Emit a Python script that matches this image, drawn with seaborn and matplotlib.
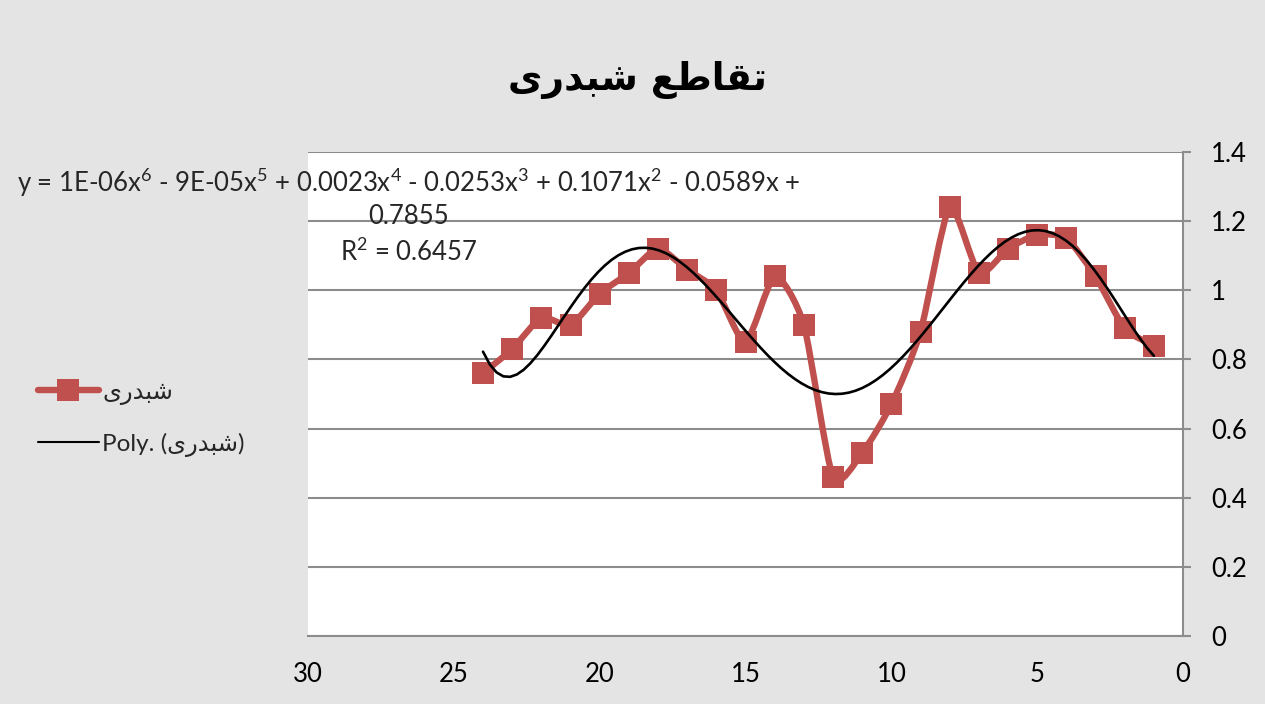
import numpy as np
import pandas as pd
import matplotlib
matplotlib.use("Agg")
import matplotlib.pyplot as plt
from matplotlib.path import Path
from matplotlib.patches import PathPatch
from matplotlib.lines import Line2D
from matplotlib.font_manager import FontProperties, findfont
from matplotlib.ft2font import FT2Font
import seaborn as sns

# ---------------- data ----------------
x_vals = [24, 23, 22, 21, 20, 19, 18, 17, 16, 15, 14, 13,
          12, 11, 10, 9, 8, 7, 6, 5, 4, 3, 2, 1]
y_vals = [0.76, 0.83, 0.92, 0.90, 0.99, 1.05, 1.12, 1.06, 1.00, 0.85, 1.04, 0.90,
          0.46, 0.53, 0.67, 0.88, 1.24, 1.05, 1.12, 1.16, 1.15, 1.04, 0.89, 0.84]
x_ticks = [30, 25, 20, 15, 10, 5, 0]
y_ticks = [0, 0.2, 0.4, 0.6, 0.8, 1.0, 1.2, 1.4]
eq_line1 = ("y = 1E-06x$^{6}$ - 9E-05x$^{5}$ + 0.0023x$^{4}$ - 0.0253x$^{3}$ "
            "+ 0.1071x$^{2}$ - 0.0589x +")
eq_line2 = "0.7855"
eq_line3 = "R$^{2}$ = 0.6457"

# --------- Arabic (pre-shaped, visual order) ---------
dv = FT2Font(findfont(FontProperties(family="DejaVu Sans")))
yeh = "\ufbfc" if dv.get_char_index(0xFBFC) else "\ufeef"
series_name = yeh + "\ufead\ufeaa\ufe92\ufeb7"            # شبدری
title_text = series_name + " " + "\ufeca\ufec3\ufe8e\ufed8\ufe97"  # تقاطع شبدری
trend_name = "Poly. (" + series_name + ")"

df = pd.DataFrame({"x": x_vals, "y": y_vals})

# ---------------- style ----------------
sns.set_theme(style="white")
plt.rcParams["font.family"] = ["Lato", "DejaVu Sans"]
plt.rcParams["mathtext.fontset"] = "custom"
plt.rcParams["mathtext.rm"] = "Lato"
plt.rcParams["mathtext.it"] = "Lato"

RED = "#C0504D"
GRID = "#8c8c8c"
BG = "#e4e4e4"
FS = 18.5

fig = plt.figure(figsize=(12.65, 7.04), dpi=100)
fig.patch.set_facecolor(BG)
W, H = 1265, 704
ax = fig.add_axes([308 / W, 1 - 636 / H, 875 / W, 484 / H])
ax.set_facecolor("white")

# smoothed series line (gentle Bezier smoothing through the points)
T = 1.0 / 9.0
P = np.column_stack([df["x"].to_numpy(float), df["y"].to_numpy(float)])
Pe = np.vstack([P[0], P, P[-1]])
verts = [tuple(P[0])]
codes = [Path.MOVETO]
for i in range(len(P) - 1):
    p0, p1, p2, p3 = Pe[i], Pe[i + 1], Pe[i + 2], Pe[i + 3]
    c1 = p1 + (p2 - p0) * T
    c2 = p2 - (p3 - p1) * T
    verts += [tuple(c1), tuple(c2), tuple(p2)]
    codes += [Path.CURVE4] * 3
ax.add_patch(PathPatch(Path(verts, codes), facecolor="none", edgecolor=RED,
                       lw=4.6, capstyle="round", joinstyle="round", zorder=3))

sns.scatterplot(data=df, x="x", y="y", marker="s", s=260, color=RED,
                linewidth=0, ax=ax, zorder=4)

# polynomial (order 6) trendline
sns.regplot(data=df, x="x", y="y", order=6, ci=None, scatter=False,
            truncate=True, line_kws=dict(color="black", lw=1.9, zorder=5), ax=ax)

ax.set_xlim(30, 0)
ax.set_ylim(0, 1.4)
ax.set_xticks(x_ticks)
ax.set_yticks(y_ticks)
ax.set_yticklabels([f"{v:g}" for v in y_ticks])
ax.set_xticklabels([str(v) for v in x_ticks])
ax.set_xlabel("")
ax.set_ylabel("")
ax.yaxis.tick_right()
ax.grid(axis="y", color=GRID, lw=1.5)
ax.grid(axis="x", visible=False)
for s in ["left", "top"]:
    ax.spines[s].set_visible(False)
for s in ["right", "bottom"]:
    ax.spines[s].set_color(GRID)
    ax.spines[s].set_linewidth(1.5)
ax.tick_params(axis="both", which="major", direction="out", length=6,
               width=1.5, color=GRID, labelsize=FS, labelcolor="black")
ax.tick_params(axis="x", pad=13)
ax.tick_params(axis="y", pad=14)

# title
fig.text(637 / W, 1 - 80 / H, title_text, ha="center", va="center",
         fontsize=27, fontweight="bold", family="DejaVu Sans", color="black")

# trendline equation label
cx = 409 / W
fig.text(cx, 1 - 183 / H, eq_line1, ha="center", va="center", fontsize=FS)
fig.text(cx, 1 - 217 / H, eq_line2, ha="center", va="center", fontsize=FS)
fig.text(cx, 1 - 252 / H, eq_line3, ha="center", va="center", fontsize=FS)

# legend
handles = [Line2D([], [], color=RED, lw=4.6, marker="s", markersize=16,
                  markerfacecolor=RED, markeredgewidth=0),
           Line2D([], [], color="black", lw=1.5)]
leg = fig.legend(handles, [series_name, trend_name], loc="upper left",
                 bbox_to_anchor=(16 / W, 1 - 360 / H), frameon=False,
                 prop=FontProperties(family=["Lato", "DejaVu Sans"], size=17.5),
                 handlelength=2.5, handletextpad=0.15, labelspacing=1.15)

fig.savefig("out.png", dpi=100, facecolor=BG)
